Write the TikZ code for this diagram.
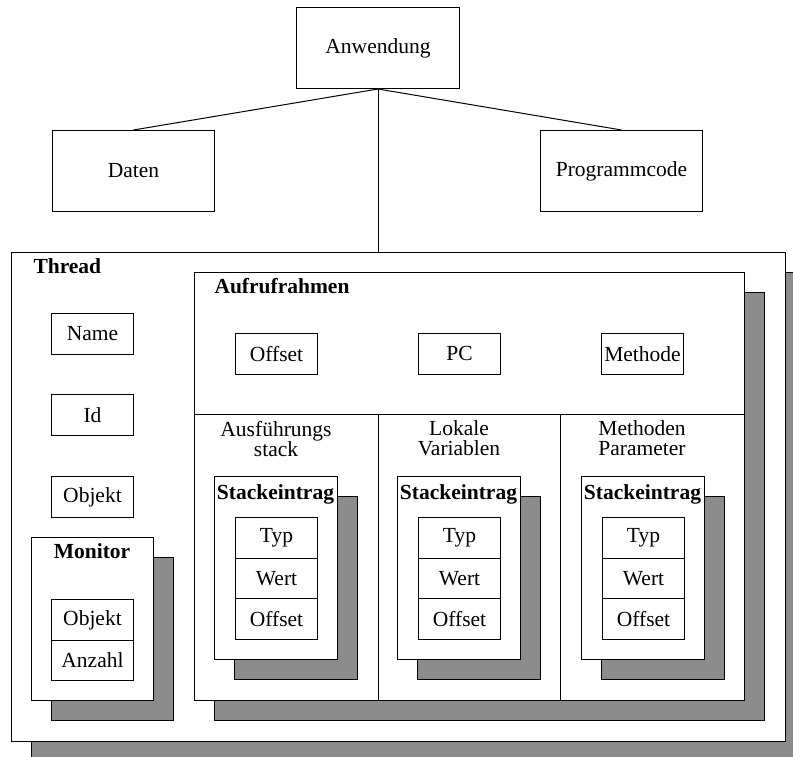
\documentclass[tikz,border=0pt]{standalone}
\usepackage{fontspec}
\setmainfont{Liberation Serif}
\usetikzlibrary{shadows}
\definecolor{shadowgray}{RGB}{140,140,140}
\begin{document}
\begin{tikzpicture}[x=1pt, y=-1pt, line width=1pt,
  every node/.style={font=\fontsize{21.5}{20}\selectfont},
  box/.style={draw, fill=white, inner sep=0pt, anchor=north west},
  shadowbox/.style={box, general shadow={fill=shadowgray, draw=black,
      shadow xshift=20pt, shadow yshift=-20pt}},
  title/.style={font=\fontsize{21.5}{20}\selectfont\bfseries, inner sep=0pt},
  cell/.style={box, minimum width=82pt, minimum height=40.7pt},
  collabel/.style={align=center, inner sep=0pt},
]
\useasboundingbox (0,0) rectangle (793,757);

% application and its parts
\node[box, minimum width=163pt, minimum height=81pt] (anw) at (296,7) {Anwendung};
\node[box, minimum width=162pt, minimum height=81pt] (daten) at (52,130) {Daten};
\node[box, minimum width=162pt, minimum height=81pt] (prog) at (540,130) {Programmcode};

% thread container
\node[shadowbox, minimum width=774pt, minimum height=489pt] (thread) at (11,252) {};
\node[title, anchor=base west] (threadlbl) at (33,273) {Thread};

\draw (anw.south) -- (daten.north);
\draw (anw.south) -- (prog.north);
\draw (anw.south) -- (anw.south |- thread.north);

% thread attributes
\node[cell] (tname) at (51,313) {Name};
\node[cell] (tid)   at (51,394) {Id};
\node[cell] (tobj)  at (51,476) {Objekt};

% monitor
\node[shadowbox, minimum width=122pt, minimum height=163pt] (monitor) at (31,537) {};
\node[title, anchor=base] (monlbl) at (92,558) {Monitor};
\node[cell] (mobj) at (51,599) {Objekt};
\node[cell] (manz) at (51,639.7) {Anzahl};

% call frame
\node[shadowbox, minimum width=550pt, minimum height=428pt] (frame) at (194,272) {};
\node[title, anchor=base west] (framelbl) at (214,293) {Aufrufrahmen};
\node[cell] (foff)  at (235,333) {Offset};
\node[cell] (fpc)   at (418,333) {PC};
\node[cell] (fmeth) at (601,333) {Methode};

\draw (194,414) -- (744,414);
\draw (378,414) -- (378,700);
\draw (560,414) -- (560,700);

\node[collabel] (lbla) at (276,438.6) {Ausführungs\\stack};
\node[collabel] (lblb) at (459,438.6) {Lokale\\Variablen};
\node[collabel] (lblc) at (642,438.6) {Methoden\\Parameter};

% stack entries, one per column
\foreach \cx/\nm in {214/a, 397/b, 581/c}{
  \node[shadowbox, minimum width=123pt, minimum height=183pt] (se-\nm) at (\cx,476) {};
  \node[title, anchor=base] (setl-\nm) at (\cx+61.5,499) {Stackeintrag};
  \node[cell] (typ-\nm)  at (\cx+21,517) {Typ};
  \node[cell] (wert-\nm) at (\cx+21,557.7) {Wert};
  \node[cell] (off-\nm)  at (\cx+21,598.4) {Offset};
}
\end{tikzpicture}
\end{document}
